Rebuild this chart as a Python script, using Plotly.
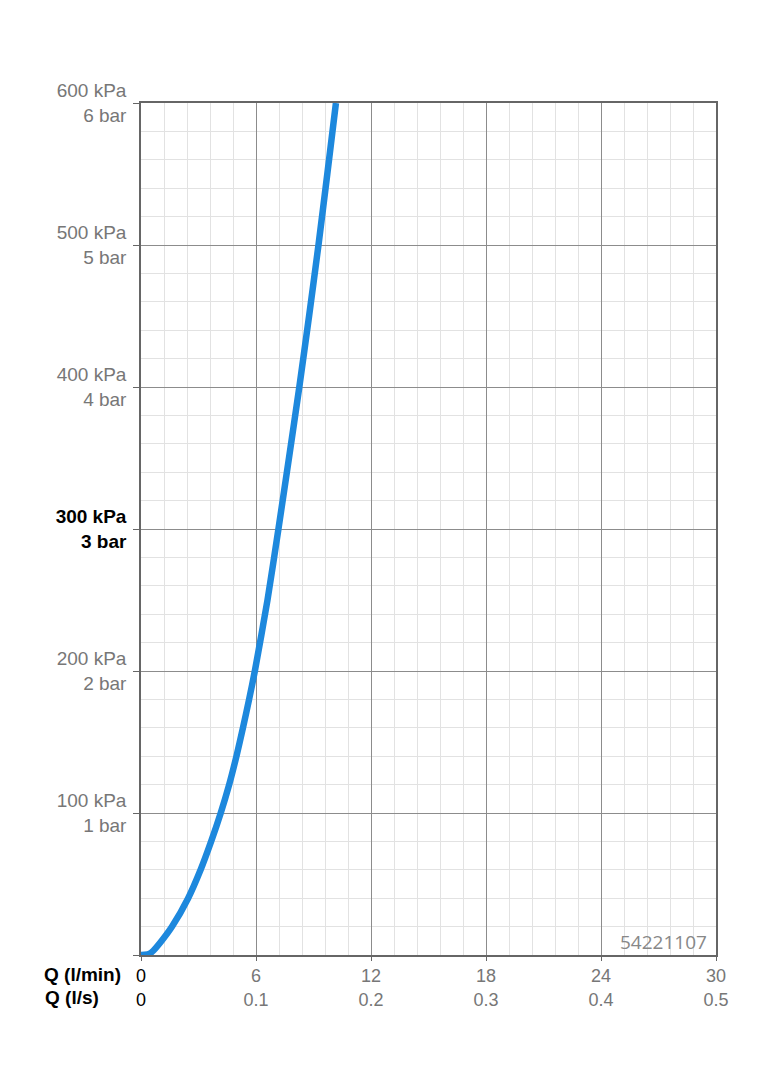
import plotly.graph_objects as go

# Flow rate (l/min) and pressure loss (kPa)
flow_lpm = [0, 0.2, 0.45, 0.64, 1.08, 1.62, 2.46, 3.11, 3.66, 4.16, 4.6, 4.98, 5.32, 5.64, 5.94,
            6.6, 7.17, 7.72, 8.26, 8.77, 9.26, 9.72, 10.17]
pressure_kpa = [0, 0.2, 1, 3, 10, 20, 40, 60, 80, 100, 120, 140, 160, 180, 200,
                250, 300, 350, 400, 450, 500, 550, 600]

x_tickvals = [0, 6, 12, 18, 24, 30]
x_lpm_labels = ["0", "6", "12", "18", "24", "30"]
x_lps_labels = ["0", "0.1", "0.2", "0.3", "0.4", "0.5"]

y_tickvals = [0, 100, 200, 300, 400, 500, 600]
y_kpa_labels = ["", "100 kPa", "200 kPa", "300 kPa", "400 kPa", "500 kPa", "600 kPa"]
y_bar_labels = ["", "1 bar", "2 bar", "3 bar", "4 bar", "5 bar", "6 bar"]

code_label = "54221107"

x_ticktext = []
for a, b in zip(x_lpm_labels, x_lps_labels):
    if a == "0":
        x_ticktext.append(f"<span style='color:#000'>{a}</span><br><span style='color:#000'>{b}</span>")
    else:
        x_ticktext.append(f"{a}<br>{b}")

y_ticktext = []
for a, b in zip(y_kpa_labels, y_bar_labels):
    if a.startswith("300"):
        y_ticktext.append(f"<span style='color:#000'><b>{a}</b></span><br><span style='color:#000'><b>{b}</b></span>")
    elif a == "":
        y_ticktext.append("")
    else:
        y_ticktext.append(f"{a}<br>{b}")

fig = go.Figure()
fig.add_trace(go.Scatter(
    x=flow_lpm, y=pressure_kpa, mode="lines",
    line=dict(color="#1d88dd", width=6.5, shape="spline", smoothing=0.6),
    hoverinfo="skip", showlegend=False,
))

font_family = "Liberation Sans, Arial, sans-serif"
FS = 19

fig.update_layout(
    width=756, height=1072,
    margin=dict(l=133, r=48, t=95, b=125, pad=0),
    paper_bgcolor="white", plot_bgcolor="white",
    font=dict(family=font_family, size=FS, color="#777"),
    xaxis=dict(
        range=[0, 30], tickvals=x_tickvals, ticktext=x_ticktext,
        showgrid=True, gridcolor="#8c8c8c", gridwidth=1,
        minor=dict(dtick=1.2, tick0=0, showgrid=True, gridcolor="#e2e2e2", gridwidth=1),
        showline=True, linecolor="#666", linewidth=1.5, mirror=True,
        ticks="outside", ticklen=4, tickcolor="#666",
        zeroline=False, tickfont=dict(size=18, color="#777"),
    ),
    yaxis=dict(
        range=[0, 600], tickvals=y_tickvals, ticktext=y_ticktext,
        showgrid=True, gridcolor="#8c8c8c", gridwidth=1,
        minor=dict(dtick=20, tick0=0, showgrid=True, gridcolor="#e2e2e2", gridwidth=1),
        showline=True, linecolor="#666", linewidth=1.5, mirror=True,
        ticks="outside", ticklen=6, tickcolor="#666", ticklabelstandoff=3,
        zeroline=False, tickfont=dict(size=FS, color="#777"),
    ),
    annotations=[
        dict(text="<b>Q (l/min)</b>", xref="paper", yref="paper",
             x=(42 - 141) / 575, y=(955 - 975) / 852, xanchor="left", yanchor="middle",
             showarrow=False, font=dict(family=font_family, size=FS, color="#000")),
        dict(text="<b>Q (l/s)</b>", xref="paper", yref="paper",
             x=(43 - 141) / 575, y=(955 - 998) / 852, xanchor="left", yanchor="middle",
             showarrow=False, font=dict(family=font_family, size=FS, color="#000")),
        dict(text=code_label, xref="paper", yref="paper",
             x=(709 - 141) / 575, y=(955 - 942) / 852, xanchor="right", yanchor="middle",
             showarrow=False, font=dict(family="Open Sans, sans-serif", size=19, color="#888")),
    ],
)

fig.write_html("out.html")
